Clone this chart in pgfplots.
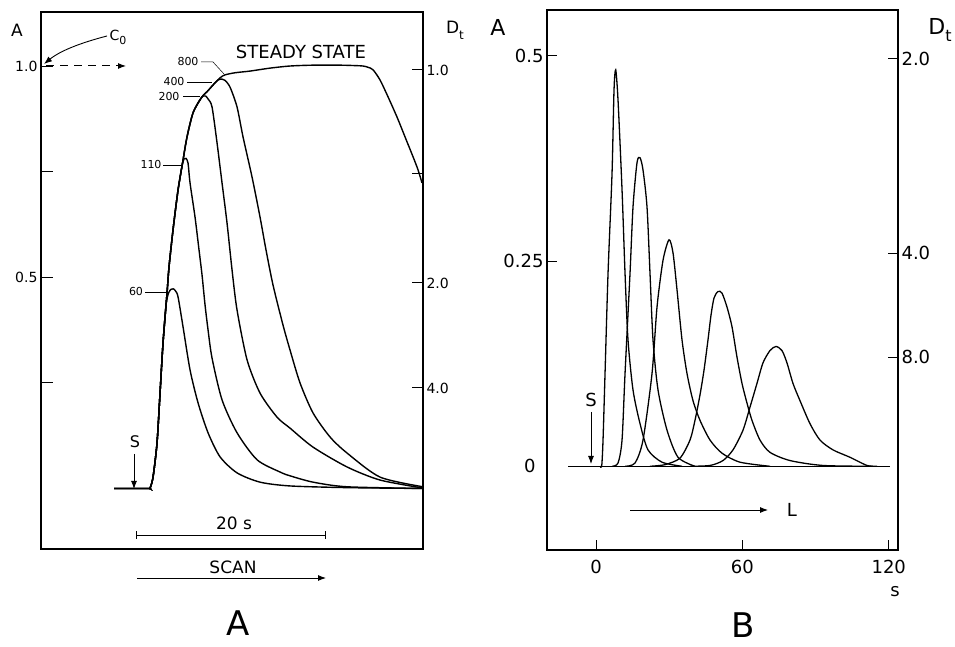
\documentclass[border=0pt]{standalone}
\usepackage{pgfplots}
\pgfplotsset{compat=1.18}
\usepackage{fontspec}
\setmainfont{DejaVu Sans}
\usetikzlibrary{arrows.meta}
\newcommand{\fs}[1]{\fontsize{#1}{#1}\selectfont}
\begin{document}
\begin{tikzpicture}
% ---------------- Panel A ----------------
\begin{axis}[at={(41pt,98pt)}, anchor=south west, scale only axis, width=382pt, height=537pt,
  xmin=-9.93, xmax=30.41, ymin=-0.1434, ymax=1.129,
  xtick=\empty, ytick={0.25,0.5,0.75,1}, yticklabels={,0.5,,1.0},
  ytick pos=left, tick align=inside, major tick length=12pt,
  tick style={black, line width=1pt}, axis line style={line width=1.4pt},
  yticklabel style={font=\fs{14}}, clip=false]
% steady state (800) envelope
\addplot[black, line width=1.4pt, smooth, tension=0.45] coordinates {(-2.218,0) (1.373,0) (1.584,0.001) (1.901,0.027) (2.323,0.108) (2.640,0.226) (2.957,0.345) (3.379,0.463) (3.590,0.525) (4.013,0.613) (4.541,0.707) (5.069,0.778) (5.491,0.833) (6.125,0.890) (7.075,0.928) (7.603,0.940) (8.237,0.956) (8.976,0.973) (9.504,0.980) (10.560,0.985) (12.144,0.989) (14.256,0.996) (16.368,1.001) (18.796,1.003) (21.647,1.003) (23.231,1.002) (24.076,1.001) (24.604,0.998) (25.132,0.992) (25.871,0.968) (26.716,0.928) (27.666,0.880) (28.511,0.833) (29.356,0.786) (29.884,0.755) (30.306,0.724)};
% 60
\addplot[black, line width=1.4pt, smooth, tension=0.45] coordinates {(-2.218,0) (1.373,0) (1.584,0.001) (1.901,0.027) (2.323,0.108) (2.640,0.226) (2.957,0.345) (3.273,0.435) (3.537,0.463) (3.801,0.472) (4.044,0.473) (4.277,0.468) (4.541,0.454) (5.069,0.383) (5.808,0.281) (6.653,0.203) (7.709,0.132) (8.976,0.075) (10.771,0.037) (13.200,0.015) (16.368,0.006) (22.387,0.002) (30.41,0)};
% 110
\addplot[black, line width=1.4pt, smooth, tension=0.45] coordinates {(-2.218,0) (1.373,0) (1.584,0.001) (1.901,0.027) (2.323,0.108) (2.640,0.226) (2.957,0.345) (3.379,0.463) (3.590,0.525) (4.013,0.613) (4.541,0.707) (4.963,0.764) (5.174,0.781) (5.385,0.782) (5.597,0.771) (5.808,0.724) (6.336,0.643) (6.758,0.565) (7.075,0.506) (7.392,0.435) (7.709,0.376) (8.131,0.309) (9.187,0.210) (10.771,0.132) (12.883,0.068) (15.311,0.039) (16.368,0.030) (18.796,0.015) (22.387,0.004) (30.41,0)};
% 200
\addplot[black, line width=1.4pt, smooth, tension=0.45] coordinates {(-2.218,0) (1.373,0) (1.584,0.001) (1.901,0.027) (2.323,0.108) (2.640,0.226) (2.957,0.345) (3.379,0.463) (3.590,0.525) (4.013,0.613) (4.541,0.707) (5.069,0.778) (5.491,0.833) (6.125,0.890) (6.758,0.918) (7.181,0.930) (7.445,0.930) (7.709,0.923) (8.131,0.904) (8.659,0.819) (9.187,0.724) (9.715,0.629) (10.243,0.518) (10.771,0.423) (11.827,0.305) (13.200,0.226) (14.995,0.169) (16.368,0.143) (18.796,0.098) (22.387,0.051) (25.871,0.020) (30.41,0.001)};
% 400
\addplot[black, line width=1.4pt, smooth, tension=0.45] coordinates {(-2.218,0) (1.373,0) (1.584,0.001) (1.901,0.027) (2.323,0.108) (2.640,0.226) (2.957,0.345) (3.379,0.463) (3.590,0.525) (4.013,0.613) (4.541,0.707) (5.069,0.778) (5.491,0.833) (6.125,0.890) (7.075,0.928) (7.603,0.940) (8.237,0.956) (8.765,0.968) (9.187,0.970) (9.504,0.967) (10.032,0.951) (10.771,0.904) (11.404,0.833) (12.355,0.738) (13.200,0.643) (13.833,0.565) (14.572,0.482) (15.628,0.387) (16.368,0.328) (17.424,0.250) (18.796,0.179) (20.591,0.122) (22.387,0.084) (25.871,0.027) (30.41,0.004)};
\end{axis}
\begin{axis}[at={(41pt,98pt)}, anchor=south west, scale only axis, width=382pt, height=537pt,
  xmin=-9.93, xmax=30.41, ymin=-0.1434, ymax=1.129,
  axis x line=none, axis y line*=right,
  ytick={0.2382,0.4870,0.7453,0.9917}, yticklabels={4.0,2.0,,1.0},
  tick align=inside, major tick length=11pt,
  tick style={black, line width=1pt}, axis line style={line width=1.4pt},
  yticklabel style={font=\fs{14}}]
\end{axis}
% ---------------- Panel B ----------------
\begin{axis}[at={(547pt,97pt)}, anchor=south west, scale only axis, width=351pt, height=540pt,
  xmin=-20.1, xmax=123.8, ymin=-0.102, ymax=0.556,
  xtick={0,60,120}, xticklabels={0,60,120}, xtick pos=bottom,
  ytick={0.25,0.5}, yticklabels={0.25,0.5}, ytick pos=left,
  extra y ticks={0}, extra y tick labels={0}, extra y tick style={major tick length=0pt, yticklabel style={xshift=-8pt}},
  tick align=inside, major tick length=10pt,
  tick style={black, line width=1pt}, axis line style={line width=1.4pt},
  ticklabel style={font=\fs{18}}, xticklabel style={yshift=-7pt}, clip=false]
\addplot[black, line width=1.3pt] coordinates {(-11.48,0) (120.5,0)};
\addplot[black, line width=1.3pt, smooth, tension=0.45] coordinates {(1.64,0) (2.34,0.001) (2.87,0.032) (3.69,0.113) (4.92,0.235) (6.56,0.357) (7.38,0.459) (8.07,0.483) (9.02,0.446) (10.66,0.337) (11.89,0.235) (13.11,0.154) (15.16,0.093) (18.03,0.052) (21.31,0.020) (27.05,0.005) (35.25,0)};
\addplot[black, line width=1.3pt, smooth, tension=0.45] coordinates {(6.56,0) (9.02,0.004) (10.66,0.032) (11.89,0.113) (13.93,0.235) (15.16,0.316) (16.80,0.370) (18.03,0.376) (19.26,0.361) (20.90,0.316) (22.13,0.235) (23.36,0.154) (25.41,0.093) (29.10,0.044) (33.61,0.011) (40.57,0)};
\addplot[black, line width=1.3pt, smooth, tension=0.45] coordinates {(11.89,0) (15.98,0.004) (19.26,0.032) (22.95,0.113) (25.00,0.194) (27.46,0.251) (29.92,0.276) (31.56,0.260) (33.20,0.215) (35.25,0.154) (37.30,0.113) (39.75,0.080) (42.62,0.056) (46.72,0.032) (51.64,0.016) (59.02,0.005) (71.31,0)};
\addplot[black, line width=1.3pt, smooth, tension=0.45] coordinates {(22.13,0) (28.28,0.002) (34.43,0.010) (38.52,0.032) (40.57,0.056) (42.62,0.087) (44.26,0.117) (45.90,0.154) (47.13,0.184) (48.36,0.205) (50.0,0.213) (51.64,0.211) (53.69,0.194) (55.74,0.170) (57.79,0.133) (59.84,0.101) (61.89,0.077) (63.93,0.056) (67.21,0.032) (71.31,0.017) (79.51,0.007) (93.03,0.001) (113.5,0)};
\addplot[black, line width=1.3pt, smooth, tension=0.45] coordinates {(38.52,0) (46.72,0.001) (52.05,0.007) (56.15,0.020) (60.25,0.044) (63.11,0.072) (65.98,0.101) (68.44,0.126) (71.31,0.141) (73.77,0.146) (76.23,0.141) (78.28,0.126) (80.74,0.101) (83.61,0.080) (87.70,0.052) (91.80,0.032) (97.13,0.020) (104.1,0.011) (111.1,0.001) (115.2,0)};
\end{axis}
\begin{axis}[at={(547pt,97pt)}, anchor=south west, scale only axis, width=351pt, height=540pt,
  xmin=-20.1, xmax=123.8, ymin=-0.102, ymax=0.556,
  axis x line=none, axis y line*=right,
  ytick={0.1329,0.2598,0.4963}, yticklabels={8.0,4.0,2.0},
  tick align=inside, major tick length=10pt,
  tick style={black, line width=1pt}, axis line style={line width=1.4pt},
  yticklabel style={font=\fs{18}}]
\end{axis}
\begin{scope}[x=1pt,y=1pt]
% annotations panel A
\node[font=\fs{17}] at (17,617) {A};
\node[font=\fs{17}] at (455,617) {D\raisebox{-0.35em}{\fs{12}t}};
\node[font=\fs{14}] at (118,610) {C\raisebox{-0.3em}{\fs{11}0}};
\draw[line width=0.9pt, -{Latex[length=8pt,width=6pt]}] (107,611) .. controls (80,604) and (60,596) .. (44,583);
\draw[line width=1pt, dash pattern=on 8pt off 6pt, -{Latex[length=8pt,width=6pt]}] (46,581) -- (126,581);
\node[font=\fs{18}] at (301,595) {STEADY STATE};
\node[font=\fs{11}] at (188,585) {800};
\node[font=\fs{11}] at (174,565) {400};
\node[font=\fs{11}] at (169,550) {200};
\node[font=\fs{11}] at (151,482) {110};
\node[font=\fs{11}] at (136,355) {60};
\draw[line width=0.5pt] (201,585) -- (213,585) -- (224,573);
\draw[line width=0.5pt] (187,565) -- (212,565);
\draw[line width=0.5pt] (183,551) -- (200,551);
\draw[line width=0.5pt] (163,482) -- (182,482);
\draw[line width=0.5pt] (145,355) -- (167,355);
\node[font=\fs{16}] at (135,205) {S};
\draw[line width=0.9pt, -{Latex[length=8pt,width=6pt]}] (134,193) -- (134,158);
\node[font=\fs{17}] at (234,124) {20 s};
\draw[line width=0.9pt] (136,112) -- (325,112);
\draw[line width=0.9pt] (136,108) -- (136,116);
\draw[line width=0.9pt] (325,108) -- (325,116);
\node[font=\fs{17}] at (233,80) {SCAN};
\draw[line width=0.9pt, -{Latex[length=8pt,width=6pt]}] (137,69) -- (326,69);
\node[font=\fs{34}] at (238,24) {A};
% annotations panel B
\node[font=\fs{22}] at (498,620) {A};
\node[font=\fs{22}] at (940,617) {D\raisebox{-0.3em}{\fs{16}t}};
\node[font=\fs{18}] at (591,247) {S};
\draw[line width=0.9pt, -{Latex[length=8pt,width=6pt]}] (591,235) -- (591,183);
\draw[line width=0.9pt, -{Latex[length=8pt,width=6pt]}] (630,137) -- (768,137);
\node[font=\fs{18}] at (792,137) {L};
\node[font=\fs{18}] at (895,55) {s};
\node[font=\fs{34}] at (743,22) {B};
\pgfresetboundingbox
\useasboundingbox (0,0) rectangle (955,647);
\end{scope}
\end{tikzpicture}
\end{document}
